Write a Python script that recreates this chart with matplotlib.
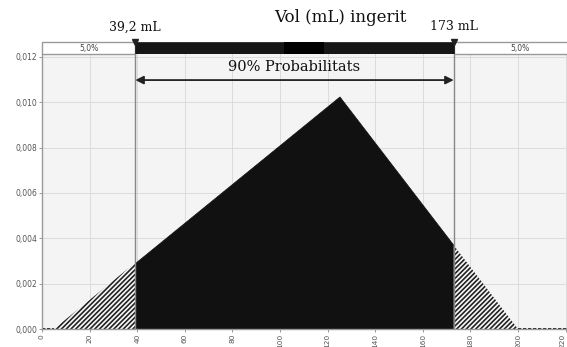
import numpy as np
import matplotlib
matplotlib.use("Agg")
import matplotlib.pyplot as plt
from matplotlib.patches import Rectangle

plt.rcParams["hatch.linewidth"] = 1.2

# Data: triangular distribution
tri_min, tri_mode, tri_max = 5.0, 125.0, 200.0
lower_q, upper_q = 39.2, 173.0
left_pct, mid_pct, right_pct = "5,0%", "90,0%", "5,0%"
xticks = [0, 20, 40, 60, 80, 100, 120, 140, 160, 180, 200, 220]
yticks = [0.000, 0.002, 0.004, 0.006, 0.008, 0.010, 0.012]
title = "Vol (mL) ingerit"
lower_label = "39,2 mL"
upper_label = "173 mL"
arrow_label = "90% Probabilitats"

peak = 2.0 / (tri_max - tri_min)

def pdf(x):
    x = np.asarray(x, dtype=float)
    y = np.zeros_like(x)
    m1 = (x >= tri_min) & (x <= tri_mode)
    m2 = (x > tri_mode) & (x <= tri_max)
    y[m1] = peak * (x[m1] - tri_min) / (tri_mode - tri_min)
    y[m2] = peak * (tri_max - x[m2]) / (tri_max - tri_mode)
    return y

W, H = 567, 347
fig = plt.figure(figsize=(W / 100, H / 100), dpi=100)
fig.patch.set_facecolor("white")

ax_left = 42 / W
ax_bottom = (H - 329) / H
ax_top = (H - 54) / H
ax_width = 1.0 - ax_left
ax = fig.add_axes([ax_left, ax_bottom, ax_width, ax_top - ax_bottom])
ax.set_facecolor("#f4f4f4")
xmin, xmax = 0, 220.6
ax.set_xlim(xmin, xmax)
ax.set_ylim(0, 0.01213)
px_per_unit = ax_width * W / (xmax - xmin)

ax.set_xticks(xticks)
ax.set_xticklabels([str(t) for t in xticks], rotation=90, fontsize=5.3, color="#555555")
ax.get_xticklabels()[-1].set_horizontalalignment("right")
ax.set_yticks(yticks)
ax.set_yticklabels([f"{t:.3f}".replace(".", ",") for t in yticks], fontsize=5.5, color="#555555")
ax.tick_params(length=2, width=0.6, colors="#888888", pad=1.5)
for lab in ax.get_xticklabels() + ax.get_yticklabels():
    lab.set_color("#555555")
ax.grid(True, color="#dcdcdc", linewidth=0.7)
ax.set_axisbelow(True)
for s in ["top", "right"]:
    ax.spines[s].set_visible(False)
for s in ["left", "bottom"]:
    ax.spines[s].set_color("#999999")
    ax.spines[s].set_linewidth(1.0)

# fills
xl = np.linspace(tri_min, lower_q, 100)
ax.fill_between(xl, 0, pdf(xl), facecolor="#f8f8f8", edgecolor="#222222", hatch="///////", linewidth=0)
xm = np.concatenate([np.linspace(lower_q, tri_mode, 200), np.linspace(tri_mode, upper_q, 200)])
ax.fill_between(xm, 0, pdf(xm), facecolor="#111111", edgecolor="#111111", linewidth=0.5)
xr = np.linspace(upper_q, tri_max, 100)
ax.fill_between(xr, 0, pdf(xr), facecolor="#f8f8f8", edgecolor="#222222", hatch="///////", linewidth=0)
ax.plot([xmin, tri_min], [0, 0], color="black", linestyle=(0, (2, 1)), linewidth=1.2, clip_on=False)
ax.plot([tri_max, xmax], [0, 0], color="black", linestyle=(0, (2, 1)), linewidth=1.2, clip_on=False)

# vertical quantile lines
for q in (lower_q, upper_q):
    ax.axvline(q, color="#888888", linewidth=1.0, zorder=5)

# double arrow
ax.annotate("", xy=(lower_q, 0.01098), xytext=(upper_q, 0.01098),
            arrowprops=dict(arrowstyle="<|-|>", color="#222222", lw=1.3,
                            mutation_scale=12, shrinkA=0, shrinkB=0))
ax.text((lower_q + upper_q) / 2, 0.01125, arrow_label, ha="center", va="bottom",
        fontsize=10.5, family="DejaVu Serif", color="#111111")

# top band
band_bottom = (H - 54) / H
band_h = 12 / H
bax = fig.add_axes([ax_left, band_bottom, ax_width, band_h])
bax.set_xlim(xmin, xmax)
bax.set_ylim(0, 1)
bax.axis("off")
bax.add_patch(Rectangle((xmin, 0), lower_q - xmin, 1, facecolor="white", edgecolor="#999999", lw=1.0, clip_on=False))
bax.add_patch(Rectangle((upper_q, 0), xmax - upper_q + 8, 1, facecolor="white", edgecolor="#999999", lw=1.0, clip_on=False))
bax.add_patch(Rectangle((lower_q, 0), upper_q - lower_q, 1, facecolor="#161616", edgecolor="#161616", lw=0.5))
mid = (lower_q + upper_q) / 2 + 4
bax.add_patch(Rectangle((mid - 8.5, 0), 17, 1, facecolor="#000000", edgecolor="none"))
bax.text(mid, 0.5, mid_pct, ha="center", va="center", fontsize=5.5, color="#000000")
bax.text((xmin + lower_q) / 2, 0.5, left_pct, ha="center", va="center", fontsize=5.5, color="#444444")
bax.text(upper_q + (xmax - upper_q) / 2 + 4, 0.5, right_pct, ha="center", va="center", fontsize=5.5, color="#444444")
for q in (lower_q, upper_q):
    bax.plot([q], [1.0], marker="v", color="#222222", markersize=4, clip_on=False)

# labels above
fig.text((42 + lower_q * px_per_unit) / W, (H - 27) / H, lower_label, ha="center", va="center",
         fontsize=9, family="DejaVu Serif", color="#111111")
fig.text((42 + upper_q * px_per_unit) / W, (H - 27) / H, upper_label, ha="center", va="center",
         fontsize=9, family="DejaVu Serif", color="#111111")
fig.text(340 / W, (H - 18) / H, title, ha="center", va="center",
         fontsize=12, family="DejaVu Serif", color="#111111")

fig.savefig("out.png", dpi=100)
